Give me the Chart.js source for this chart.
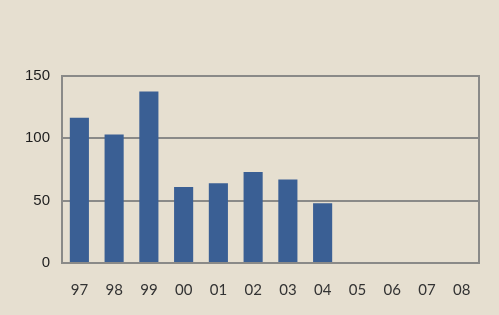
<!DOCTYPE html>
<html>
<head>
<meta charset="utf-8">
<script src="https://cdn.jsdelivr.net/npm/chart.js@4/dist/chart.umd.min.js"></script>
<style>
  html, body { margin:0; padding:0; background:#e6dfd0; }
  #wrap { width:499px; height:315px; }
</style>
</head>
<body>
<div id="wrap"><canvas id="chartBars" width="499" height="315"></canvas></div>
<script>
const years = ['97','98','99','00','01','02','03','04','05','06','07','08'];
const values = [116.5, 103, 137.5, 61, 64, 73, 67, 48, null, null, null, null];
const yTicks = [0, 50, 100, 150];

const frame = {
  id:'frame',
  afterDatasetsDraw(chart){
    const a = chart.chartArea, ctx = chart.ctx;
    ctx.save();
    ctx.strokeStyle = '#8a8a88';
    ctx.lineWidth = 2;
    ctx.strokeRect(a.left, a.top, a.right - a.left, a.bottom - a.top);
    ctx.restore();
  }
};

new Chart(document.getElementById('chartBars').getContext('2d'), {
  type:'bar',
  data:{ labels:years, datasets:[{ data:values, backgroundColor:'#3a5f94', barPercentage:0.55, categoryPercentage:1 }] },
  options:{
    responsive:false, animation:false,
    layout:{ padding:{ left:0, right:20, top:76, bottom:0 } },
    plugins:{ legend:{ display:false }, tooltip:{ enabled:false } },
    scales:{
      x:{
        offset:true,
        grid:{ display:false },
        border:{ display:false },
        ticks:{ color:'#333', font:{ family:'Lato', size:15 }, padding:10, maxRotation:0 },
        afterFit(s){ s.height = 52; }
      },
      y:{
        min:0, max:150,
        afterBuildTicks(s){ s.ticks = yTicks.map(v => ({ value:v })); },
        grid:{ color:'#8a8a88', lineWidth:2, drawTicks:false },
        border:{ display:false },
        ticks:{ color:'#1e1e1e', font:{ family:'Liberation Sans', size:15 }, padding:12 },
        afterFit(s){ s.width = 62; }
      }
    }
  },
  plugins:[frame]
});
</script>
</body>
</html>
